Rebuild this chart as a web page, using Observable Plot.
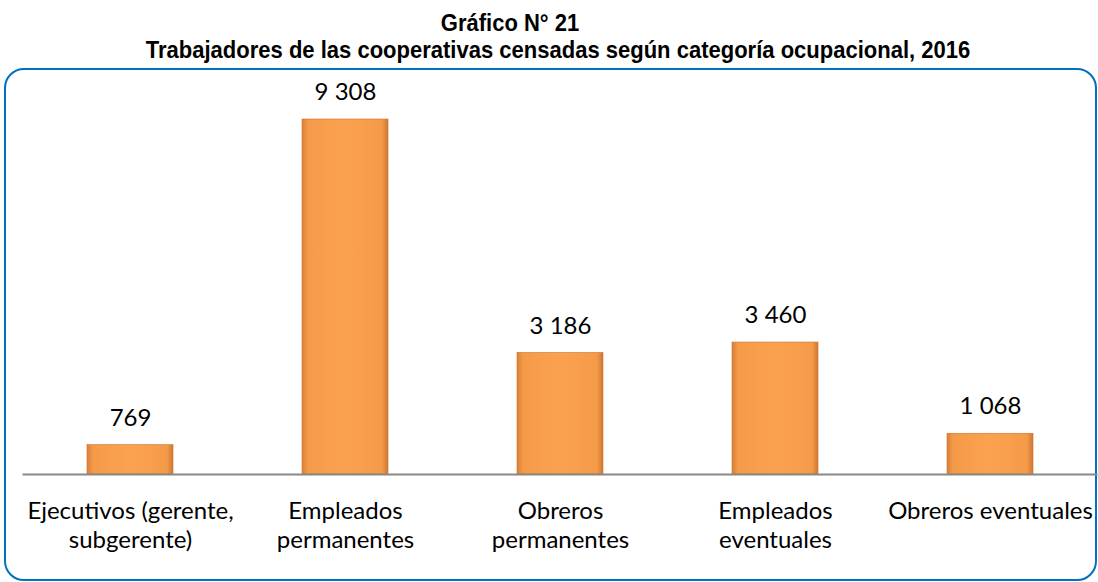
<!DOCTYPE html>
<html>
<head>
<meta charset="utf-8">
<script src="https://cdn.jsdelivr.net/npm/d3@7"></script>
<script src="https://cdn.jsdelivr.net/npm/@observablehq/plot@0.6"></script>
<style>
  html, body { margin: 0; padding: 0; background: #fff; }
  body { width: 1098px; height: 582px; position: relative; overflow: hidden; }
  .title, .subtitle {
    position: absolute; white-space: nowrap; color: #000;
    font-family: "Liberation Sans Narrow", "Arial Narrow", "Liberation Sans", Arial, sans-serif;
    font-weight: bold; transform: translateX(-50%) scaleX(0.917);
  }
  .title { left: 510px; top: 9px; font-size: 24px; }
  .subtitle { left: 558px; top: 36px; font-size: 24px; }
  .frame {
    position: absolute; left: 4px; top: 68px; width: 1093px; height: 513px;
    border: 2.5px solid #0070C0; border-radius: 20px; box-sizing: border-box;
  }
  #chart { position: absolute; left: 0; top: 70px; }
  #chart svg { overflow: visible; }
</style>
</head>
<body>
<div class="title">Gráfico N° 21</div>
<div class="subtitle">Trabajadores de las cooperativas censadas según categoría ocupacional, 2016</div>
<div class="frame"></div>
<div id="chart"></div>
<script>
const categories = [
  "Ejecutivos (gerente, subgerente)",
  "Empleados permanentes",
  "Obreros permanentes",
  "Empleados eventuales",
  "Obreros eventuales"
];
const tickLabels = [
  "Ejecutivos (gerente,\nsubgerente)",
  "Empleados\npermanentes",
  "Obreros\npermanentes",
  "Empleados\neventuales",
  "Obreros eventuales"
];
const values = [769, 9308, 3186, 3460, 1068];

const data = categories.map((c, i) => ({category: c, value: values[i]}));
const fmt = d3.formatLocale({thousands: "\u00a0", grouping: [3], decimal: ","}).format(",d");
const labelOf = new Map(categories.map((c, i) => [c, tickLabels[i]]));

const font = "Lato, Carlito, Calibri, sans-serif";

const chart = Plot.plot({
  width: 1098,
  height: 512,
  marginLeft: 22.5,
  marginRight: 0.5,
  marginTop: 49,
  marginBottom: 108,
  style: {fontFamily: font, background: "transparent", color: "#000"},
  x: {domain: categories, paddingInner: 0.6, paddingOuter: 0.3, axis: null},
  y: {domain: [0, 9308], axis: null},
  marks: [
    Plot.barY(data, {
      x: "category", y: "value",
      fill: "url(#barGrad)", stroke: "#C9732C", strokeWidth: 0.6,
      style: {filter: "drop-shadow(2px 2px 1.5px rgba(0,0,0,0.35))"}
    }),
    Plot.ruleY([0], {stroke: "#888", strokeWidth: 2}),
    Plot.text(data, {
      x: "category", y: "value", text: d => fmt(d.value),
      dy: -27, fontSize: 24, fill: "#000"
    }),
    Plot.axisX({
      tickSize: 0, tickPadding: 24, fontSize: 24, lineHeight: 1.2,
      tickFormat: d => labelOf.get(d), fill: "#000", label: null
    })
  ]
});

const defs = d3.select(chart).insert("defs", ":first-child");
const g = defs.append("linearGradient").attr("id", "barGrad")
  .attr("x1", "0").attr("x2", "1").attr("y1", "0").attr("y2", "0");
[["0%", "#D9803A"], ["7%", "#F59A48"], ["50%", "#FBA250"], ["93%", "#F59A48"], ["100%", "#D07732"]]
  .forEach(([o, c]) => g.append("stop").attr("offset", o).attr("stop-color", c));

document.getElementById("chart").appendChild(chart);
</script>
</body>
</html>
